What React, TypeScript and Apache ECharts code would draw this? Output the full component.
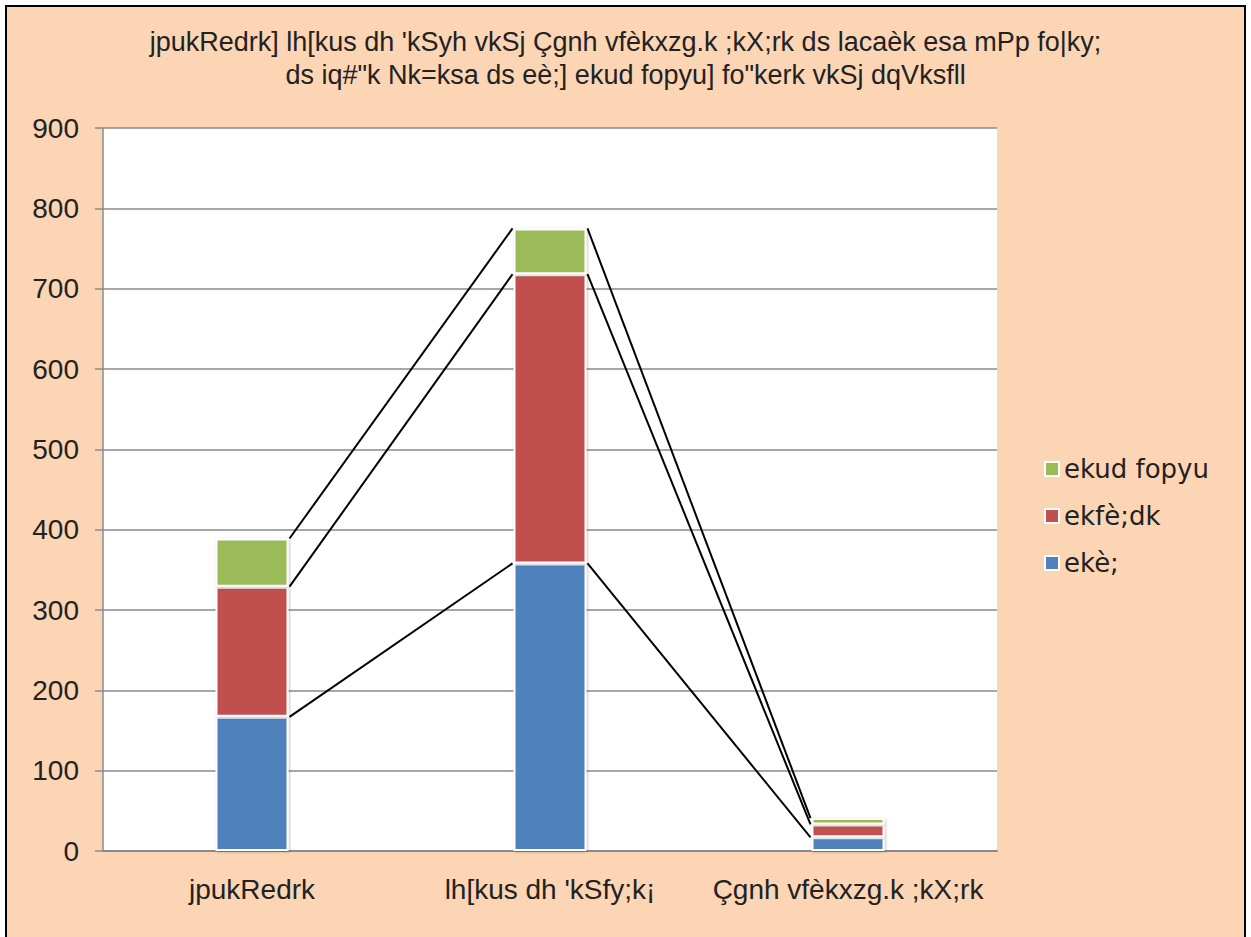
import React, { useEffect, useRef } from "react";
import * as echarts from "echarts";

const titleLines = [
  "jpukRedrk] lh[kus dh 'kSyh vkSj Çgnh vfèkxzg.k ;kX;rk ds lacaèk esa mPp fo|ky;",
  "ds iq#\"k Nk=ksa ds eè;] ekud fopyu] fo\"kerk vkSj dqVksfll",
];
const categories = ["jpukRedrk", "lh[kus dh 'kSfy;k¡", "Çgnh vfèkxzg.k ;kX;rk"];
const seriesNames = ["ekè;", "ekfè;dk", "ekud fopyu"];
const meanVals = [167, 358, 17];
const medianVals = [162, 360, 16];
const sdVals = [60, 57, 8];
const colors = ["#4F81BD", "#C0504D", "#9BBB59"];
const yMin = 0;
const yMax = 900;
const yStep = 100;

const BAR_RATIO = 0.245;
const NARROW = "'Liberation Sans Narrow', 'Liberation Sans', sans-serif";
const WIDE = "'DejaVu Sans', sans-serif";

export default function App() {
  const ref = useRef<HTMLDivElement>(null);
  useEffect(() => {
    if (!ref.current) return;
    const chart = echarts.init(ref.current, null, { renderer: "svg" });
    const stacks = [meanVals, medianVals, sdVals];
    const barSeries = stacks.map((vals, k) => ({
      name: seriesNames[k],
      type: "bar",
      stack: "total",
      barWidth: BAR_RATIO * 100 + "%",
      data: vals,
      itemStyle: {
        color: colors[k],
        borderColor: "#ffffff",
        borderWidth: 2,
        shadowBlur: 3,
        shadowColor: "rgba(0,0,0,0.25)",
        shadowOffsetX: 1,
        shadowOffsetY: 1,
      },
      emphasis: { disabled: true },
    }));
    const linesSeries = {
      type: "custom",
      coordinateSystem: "cartesian2d",
      silent: true,
      z: 3,
      encode: { x: 0, y: 1 },
      data: categories.map((_, i) => [i, 0]),
      renderItem: (params: any, api: any) => {
        const i = params.dataIndex;
        if (i >= categories.length - 1) return { type: "group", children: [] };
        const band = api.size([1, 0])[0];
        const bw = band * BAR_RATIO;
        const children: any[] = [];
        let c0 = 0;
        let c1 = 0;
        for (const s of stacks) {
          c0 += s[i];
          c1 += s[i + 1];
          const p0 = api.coord([i, c0]);
          const p1 = api.coord([i + 1, c1]);
          children.push({
            type: "line",
            shape: { x1: p0[0] + bw / 2 + 1, y1: p0[1], x2: p1[0] - bw / 2 - 1, y2: p1[1] },
            style: { stroke: "#000", lineWidth: 2 },
          });
        }
        return { type: "group", children };
      },
    };
    chart.setOption({
      animation: false,
      backgroundColor: "transparent",
      title: {
        text: titleLines.join("\n"),
        left: "center",
        top: 15,
        textStyle: {
          fontFamily: NARROW,
          fontWeight: "normal",
          fontSize: 27,
          lineHeight: 33,
          color: "#222",
        },
      },
      legend: {
        orient: "vertical",
        left: 1034,
        top: 446,
        itemWidth: 14,
        itemHeight: 14,
        itemGap: 21,
        icon: "rect",
        data: ["ekud fopyu", "ekfè;dk", "ekè;"],
        textStyle: { fontFamily: WIDE, fontSize: 26, color: "#222", padding: [0, 0, 0, 0] },
      },
      grid: {
        left: 98,
        top: 123,
        right: 249,
        bottom: 99,
        show: true,
        backgroundColor: "#ffffff",
        borderWidth: 0,
      },
      xAxis: {
        type: "category",
        data: categories,
        axisLine: { lineStyle: { color: "#8a8a8a", width: 2 } },
        axisTick: { show: false },
        axisLabel: { fontFamily: NARROW, fontSize: 28, color: "#222", margin: 24, interval: 0 },
      },
      yAxis: {
        type: "value",
        min: yMin,
        max: yMax,
        interval: yStep,
        axisLine: { show: true, lineStyle: { color: "#8a8a8a", width: 1.5 } },
        axisTick: { show: true, length: 8, lineStyle: { color: "#8a8a8a", width: 1.5 } },
        splitLine: { lineStyle: { color: "#8a8a8a", width: 1.5 } },
        axisLabel: { fontFamily: NARROW, fontSize: 28, color: "#222", margin: 24 },
      },
      series: [...barSeries, linesSeries],
    });
    return () => chart.dispose();
  }, []);
  return (
    <div
      style={{
        position: "absolute",
        left: 5,
        top: 5,
        width: 1241,
        height: 945,
        boxSizing: "border-box",
        border: "2.5px solid #000",
        background: "#FCD5B5",
      }}
    >
      <div ref={ref} style={{ position: "absolute", left: -2.5, top: -2.5, width: 1241, height: 945 }} />
    </div>
  );
}
